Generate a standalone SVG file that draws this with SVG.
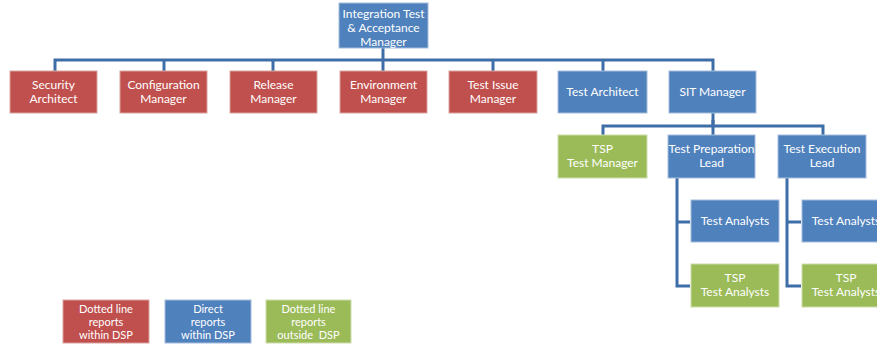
<svg xmlns="http://www.w3.org/2000/svg" width="877" height="344" viewBox="0 0 877 344">
<style>
.r{fill:#C0504D;stroke:#D9A3A1;stroke-width:1}
.b{fill:#4F81BD;stroke:#A5BEDD;stroke-width:1}
.g{fill:#9BBB59;stroke:#CCDDAA;stroke-width:1}
text{font-family:Lato,"Open Sans","Liberation Sans",sans-serif;font-size:12px;fill:#FFFFFF;text-anchor:middle}
.s{font-size:11px}
.c{fill:none;stroke:#3E6EA8;stroke-width:3}
</style>
<rect width="877" height="344" fill="#FFFFFF"/>
<g id="connectors" class="c">
<path d="M383 48V60"/>
<path d="M55 72V60H713V72"/>
<path d="M164 60V72M273 60V72M383 60V72M493 60V72M603 60V72"/>
<path d="M713 113V126"/>
<path d="M603 136V126H823V136"/>
<path d="M713 120V136"/>
<path d="M677 178V286H690M677 222H690"/>
<path d="M787 178V286H801M787 222H801"/>
</g>
<g id="n-itam"><rect class="b" x="339" y="3" width="89" height="45"/><text x="383.5" y="18">Integration Test</text><text x="383.5" y="32">&amp; Acceptance</text><text x="383.5" y="46">Manager</text></g>
<g id="n-sec"><rect class="r" x="10" y="71" width="87" height="42"/><text x="53.5" y="89">Security</text><text x="53.5" y="103">Architect</text></g>
<g id="n-cfg"><rect class="r" x="120" y="71" width="87" height="42"/><text x="163.5" y="89">Configuration</text><text x="163.5" y="103">Manager</text></g>
<g id="n-rel"><rect class="r" x="230" y="71" width="87" height="42"/><text x="273.5" y="89">Release</text><text x="273.5" y="103">Manager</text></g>
<g id="n-env"><rect class="r" x="340" y="71" width="87" height="42"/><text x="383.5" y="89">Environment</text><text x="383.5" y="103">Manager</text></g>
<g id="n-tim"><rect class="r" x="449" y="71" width="88" height="42"/><text x="493" y="89">Test Issue</text><text x="493" y="103">Manager</text></g>
<g id="n-ta"><rect class="b" x="558" y="71" width="89" height="42"/><text x="602.5" y="96">Test Architect</text></g>
<g id="n-sit"><rect class="b" x="669" y="71" width="87" height="42"/><text x="712.5" y="96">SIT Manager</text></g>
<g id="n-tsptm"><rect class="g" x="558" y="135" width="89" height="43"/><text x="602.5" y="153">TSP</text><text x="602.5" y="167">Test Manager</text></g>
<g id="n-tpl"><rect class="b" x="668" y="135" width="87" height="43"/><text x="711.5" y="153">Test Preparation</text><text x="711.5" y="167">Lead</text></g>
<g id="n-tel"><rect class="b" x="778" y="135" width="88" height="43"/><text x="822" y="153">Test Execution</text><text x="822" y="167">Lead</text></g>
<g id="n-ta1"><rect class="b" x="691" y="200" width="88" height="42"/><text x="735" y="225">Test Analysts</text></g>
<g id="n-tspta1"><rect class="g" x="691" y="264" width="88" height="43"/><text x="735" y="282">TSP</text><text x="735" y="296">Test Analysts</text></g>
<g id="n-ta2"><rect class="b" x="802" y="200" width="88" height="42"/><text x="846" y="225">Test Analysts</text></g>
<g id="n-tspta2"><rect class="g" x="802" y="264" width="88" height="43"/><text x="846" y="282">TSP</text><text x="846" y="296">Test Analysts</text></g>
<g id="legend-red"><rect class="r" x="63" y="300" width="86" height="43"/><text class="s" x="106" y="313">Dotted line</text><text class="s" x="106" y="326">reports</text><text class="s" x="106" y="339">within DSP</text></g>
<g id="legend-blue"><rect class="b" x="165" y="300" width="86" height="43"/><text class="s" x="208" y="313">Direct</text><text class="s" x="208" y="326">reports</text><text class="s" x="208" y="339">within DSP</text></g>
<g id="legend-green"><rect class="g" x="266" y="300" width="85" height="43"/><text class="s" x="308.5" y="313">Dotted line</text><text class="s" x="308.5" y="326">reports</text><text class="s" x="308.5" y="339">outside&#160; DSP</text></g>
</svg>
